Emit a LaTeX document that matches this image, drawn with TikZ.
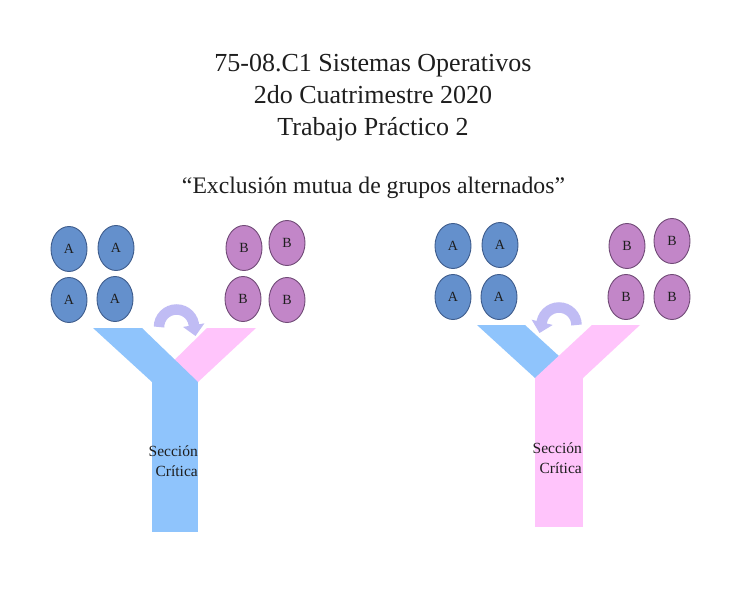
\documentclass[tikz,border=0pt]{standalone}
\usepackage{fontspec}
\setmainfont{Liberation Serif}
\usetikzlibrary{arrows.meta,shapes.geometric}
\definecolor{ablue}{RGB}{100,144,204}
\definecolor{abluedark}{RGB}{62,92,140}
\definecolor{bpink}{RGB}{194,134,200}
\definecolor{bpinkdark}{RGB}{112,74,118}
\definecolor{yblue}{RGB}{143,196,252}
\definecolor{ypink}{RGB}{255,196,251}
\definecolor{arcc}{RGB}{192,188,244}
\definecolor{txt}{RGB}{30,30,30}
\begin{document}
\begin{tikzpicture}[x=1pt,y=-1pt,
  procA/.style={ellipse,draw=abluedark,line width=0.9pt,fill=ablue,minimum width=36pt,minimum height=45pt,inner sep=0pt,text=txt,font=\fontsize{14}{14}\selectfont},
  procB/.style={procA,draw=bpinkdark,fill=bpink},
  titletext/.style={text=txt,font=\fontsize{26}{26}\selectfont,anchor=base,inner sep=0pt},
  sctext/.style={text=txt,font=\fontsize{15.5}{20}\selectfont,align=right,anchor=east,inner sep=0pt},
  turn/.style={draw=arcc,line width=10.5pt,-{Triangle[width=21pt,length=11pt]}}]
\fill[white] (0,0) rectangle (732,592);
\useasboundingbox (0,0) rectangle (732,592);

% titles
\node[titletext] (t1) at (373,71) {75-08.C1 Sistemas Operativos};
\node[titletext] (t2) at (373,103) {2do Cuatrimestre 2020};
\node[titletext] (t3) at (373,135) {Trabajo Práctico 2};
\node[titletext,font=\fontsize{23.7}{23.7}\selectfont] (t4) at (373.5,193) {“Exclusión mutua de grupos alternados”};

% ---------- left figure ----------
\node[procA] (la1) at (69,249) {A};
\node[procA] (la2) at (116,248) {A};
\node[procA] (la3) at (69,300) {A};
\node[procA] (la4) at (115,299) {A};
\node[procB] (lb1) at (244,248) {B};
\node[procB] (lb2) at (287,243) {B};
\node[procB] (lb3) at (243,299) {B};
\node[procB] (lb4) at (287,300) {B};

\fill[ypink] (207,328) -- (256,328) -- (198,382) -- (152,382) -- cycle;
\fill[yblue] (93,328) -- (142,328) -- (198,382) -- (152,382) -- cycle;
\fill[yblue] (152,381.5) rectangle (198,532);
\node[sctext] (lsc) at (198,461) {Sección\\Crítica};
\draw[turn] (159,327) arc[start angle=180,end angle=360,radius=17.5] -- ++(1.5,9);

% ---------- right figure ----------
\node[procA] (ra1) at (453,246) {A};
\node[procA] (ra2) at (500,245) {A};
\node[procA] (ra3) at (453,297) {A};
\node[procA] (ra4) at (499,297) {A};
\node[procB] (rb1) at (627,246) {B};
\node[procB] (rb2) at (672,241) {B};
\node[procB] (rb3) at (626,297) {B};
\node[procB] (rb4) at (672,297) {B};

\fill[yblue] (477,325) -- (525,325) -- (583,378) -- (535,378) -- cycle;
\fill[ypink] (592,325) -- (640,325) -- (583,378) -- (535,378) -- cycle;
\fill[ypink] (535,377.5) rectangle (583,527);
\node[sctext] (rsc) at (582,458) {Sección\\Crítica};
\draw[turn] (576.5,325) arc[start angle=0,end angle=-180,radius=17.5] -- ++(-2,8);
\end{tikzpicture}
\end{document}
